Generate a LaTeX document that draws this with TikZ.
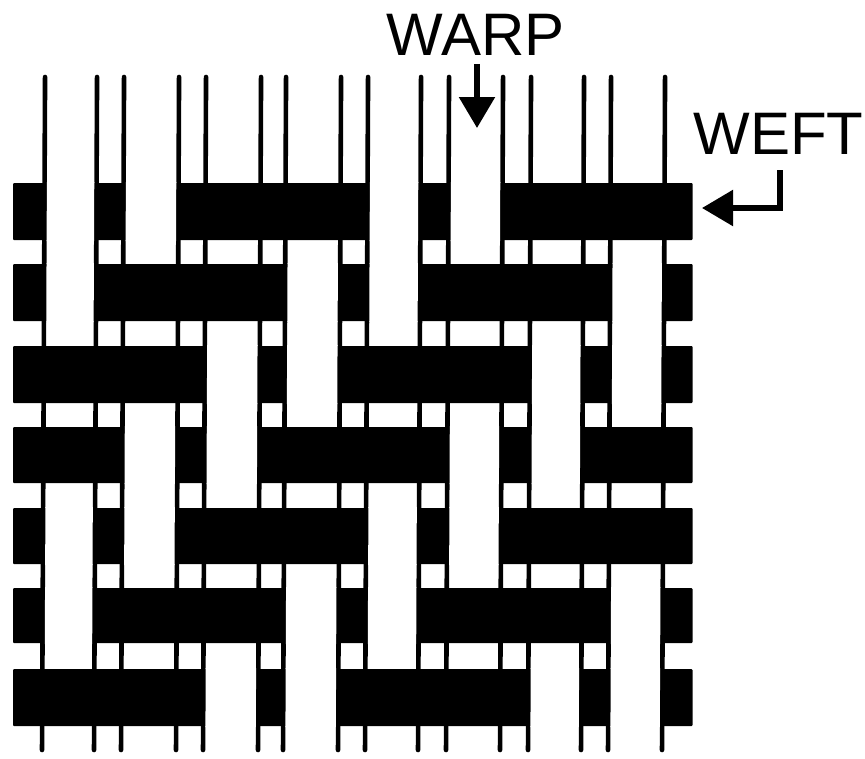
\documentclass[tikz,border=0pt]{standalone}
\usepackage{xcolor}
\usepackage{fontspec}
\setmainfont{Liberation Sans}
\usetikzlibrary{arrows.meta}
\tikzset{
  warpline/.style={line width=4.6pt, line cap=round},
  weftbar/.style={fill=black, rounded corners=1pt},
  warpover/.style={fill=white},
  weavelabel/.style={inner sep=0pt, font=\fontsize{60}{60}\selectfont},
  pointer/.style={line width=5.5pt, -{Triangle[length=31pt,width=35pt]}},
  warpskew/.style={xslant=0.0045}
}
\def\warpleft{{45.4,124.4,206.4,286.4,368.4,449.4,531.4,611.4}}
\def\warpright{{97.4,179.4,261.4,341.4,421.4,503.4,584.4,665.4}}

\begin{document}
\begin{tikzpicture}[x=1pt, y=-1pt]
    \useasboundingbox (0,0) rectangle (865,758);
    \fill[white] (0,0) rectangle (865,758);
    % warp threads
    \begin{scope}[warpskew]
      \foreach \c in {0,...,7} {
        \pgfmathsetmacro{\xl}{\warpleft[\c]}
        \pgfmathsetmacro{\xr}{\warpright[\c]}
        \draw[warpline] (\xl,77) -- (\xl,750);
        \draw[warpline] (\xr,77) -- (\xr,750);
      }
    \end{scope}
    % weft rows, then the warp lying over them
    \foreach \ytop/\ybot/\overlist in {183/240/{0,1,4,5}, 264/321/{0,3,4,7}, 346/403/{2,3,6,7},
        427/483/{1,2,5,6}, 508/564/{0,1,4,5}, 588/643/{0,3,4,7}, 669/726/{2,3,6,7}} {
      \fill[weftbar] (13,\ytop) rectangle (692.5,\ybot);
      \begin{scope}[warpskew]
        \foreach \c in \overlist {
          \pgfmathsetmacro{\xl}{\warpleft[\c]+2.3}
          \pgfmathsetmacro{\xr}{\warpright[\c]-2.3}
          \fill[warpover] (\xl,\ytop-1) rectangle (\xr,\ybot+1);
        }
      \end{scope}
    }
    % labels
    \node[weavelabel] (warplabel) at (475.5,35) {WARP};
    \node[weavelabel] (weftlabel) at (778.5,134) {WEFT};
    \coordinate (warptip) at (477,128);
    \coordinate (wefttip) at (702,208);
    \coordinate (weftbend) at (780,170);
    \draw[pointer, shorten <=8pt] (warplabel.south -| warptip) -- (warptip);
    \draw[pointer] (weftbend) |- (wefttip);
  \end{tikzpicture}
\end{document}
